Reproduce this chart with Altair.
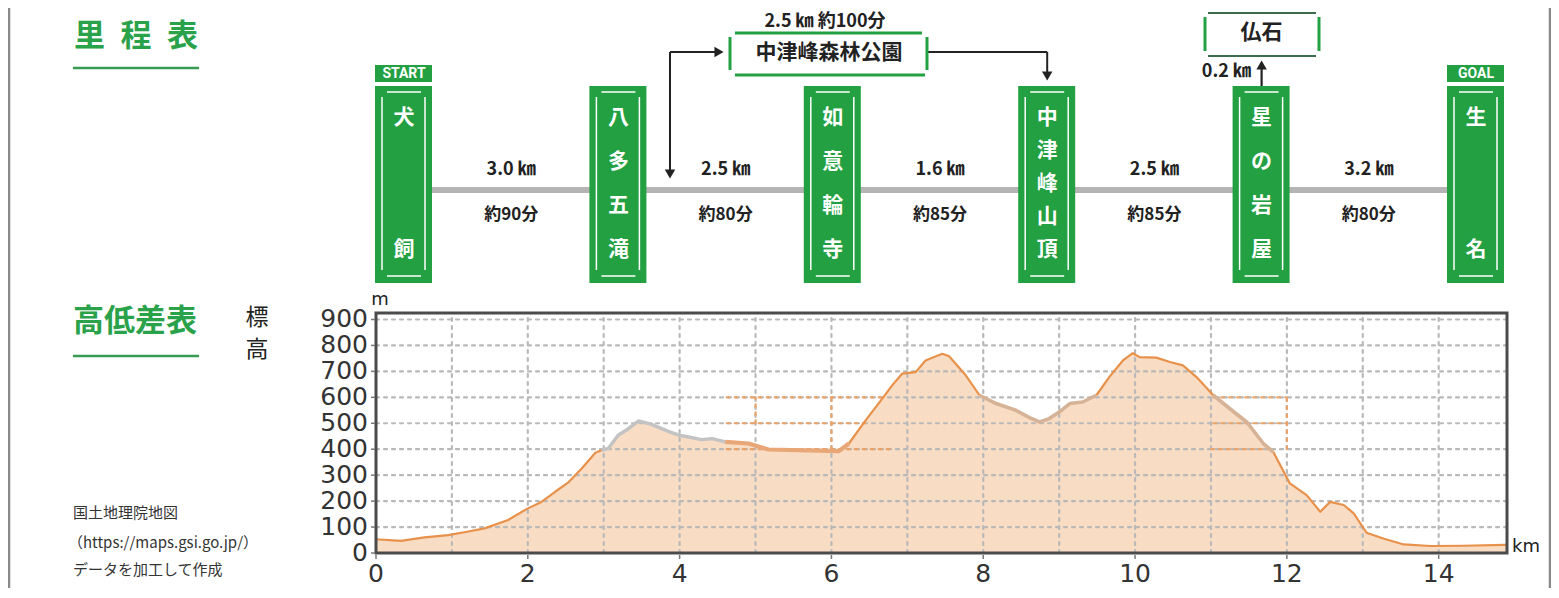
import altair as alt
import pandas as pd

# ---------------- data ----------------
stations = ["犬飼", "八多五滝", "如意輪寺", "中津峰山頂", "星の岩屋", "生名"]
station_tags = ["START", "", "", "", "", "GOAL"]
leg_dist = ["3.0 ㎞", "2.5 ㎞", "1.6 ㎞", "2.5 ㎞", "3.2 ㎞"]
leg_time = ["約90分", "約80分", "約85分", "約85分", "約80分"]
side_name = "中津峰森林公園"
side_info = "2.5 ㎞ 約100分"
spur_name = "仏石"
spur_info = "0.2 ㎞"

dist_km = [0.00, 0.33, 0.64, 0.95, 1.20, 1.43, 1.74, 2.00, 2.18, 2.36, 2.53, 2.71, 2.89, 2.97,
           3.06, 3.19, 3.33, 3.46, 3.63, 3.85, 3.99, 4.12, 4.29, 4.43, 4.60,
           4.91, 5.17, 6.10, 6.23, 6.45, 6.67, 6.80, 6.93, 7.11, 7.24, 7.46, 7.55, 7.77, 7.95,
           8.17, 8.43, 8.61, 8.74, 8.87, 9.00, 9.14, 9.31, 9.49, 9.66, 9.84, 9.97,
           10.06, 10.28, 10.46, 10.63, 10.81, 11.03, 11.25, 11.47, 11.69, 11.82,
           12.04, 12.26, 12.44, 12.57, 12.75, 12.88, 13.05, 13.27, 13.54, 13.89, 14.33, 14.86, 14.90]
elev_m = [53, 47, 60, 69, 82, 95, 127, 172, 197, 236, 271, 326, 386, 396,
          403, 454, 480, 509, 496, 469, 454, 447, 437, 441, 428,
          422, 399, 393, 422, 511, 595, 646, 691, 697, 742, 768, 758, 685, 608,
          576, 550, 522, 505, 518, 543, 576, 582, 608, 678, 742, 770,
          755, 753, 736, 723, 678, 608, 556, 505, 422, 390,
          268, 223, 159, 197, 185, 153, 78, 56, 33, 27, 28, 31, 31]

seg_breaks = [0.0, 2.97, 4.60, 6.23, 7.95, 9.49, 11.03, 11.82, 14.90]
seg_kinds = ["main", "gray", "road", "main", "tan", "main", "tan", "main"]

y_ticks = list(range(0, 1000, 100))
x_ticks = list(range(0, 15, 2))
x_grid = list(range(1, 15))
y_grid = list(range(100, 1000, 100))

# recoloured grid pieces seen on the map export
og_h_m = [600, 500, 400, 600, 500, 400]
og_h_from = [4.62, 4.62, 4.62, 11.03, 11.03, 11.0]
og_h_to = [6.70, 6.45, 6.80, 12.0, 12.0, 11.8]
og_v_km = [5, 6, 12]
og_v_from = [500, 400, 400]
og_v_to = [600, 600, 600]

# ---------------- style / layout ----------------
GREEN = "#22a042"
TGREEN = "#2aa24a"
DARK = "#222222"
JP = "Noto Sans CJK JP"
NUM = "DejaVu Sans"
W, H = 1131, 545
PX = 1 / 214.4                    # station-index units per pixel
IDX = alt.Scale(domain=[0, 5], range=[28, 1100])
KM = alt.Scale(domain=[0, 14.9], nice=False)
EL = alt.Scale(domain=[0, 925], range=[545, 305], nice=False)


def sx(f):
    return alt.X(f, type="quantitative", scale=IDX, axis=None)


def label(txt, x, y, size, color=DARK, weight="normal", align="center", font=JP):
    return alt.Chart(pd.DataFrame({"t": [txt]})).mark_text(
        font=font, fontSize=size, fontWeight=weight, color=color, align=align, baseline="middle"
    ).encode(text="t:N", x=alt.value(x), y=alt.value(y))


# ---------------- schematic (里程表) ----------------
st_df = pd.DataFrame({"idx": list(range(len(stations))), "name": stations, "tag": station_tags})
st = alt.Chart(st_df)

route = st.transform_aggregate(a="min(idx)", b="max(idx)").mark_rule(
    color="#b4b4b4", strokeWidth=6).encode(x=sx("a"), x2="b", y=alt.value(182))

boxes = st.transform_calculate(l=f"datum.idx-{29*PX}", r=f"datum.idx+{28*PX}").mark_rect(
    color=GREEN).encode(x=sx("l"), x2="r", y=alt.value(78), y2=alt.value(275))

inner = []
for off in (-22, 21):
    inner.append(st.transform_calculate(v=f"datum.idx+{off*PX}").mark_rule(
        color="white", strokeWidth=1.5).encode(x=sx("v"), y=alt.value(89), y2=alt.value(262)))
for yy in (84, 268):
    inner.append(st.transform_calculate(l=f"datum.idx-{17*PX}", r=f"datum.idx+{17*PX}").mark_rule(
        color="white", strokeWidth=1.5).encode(x=sx("l"), x2="r", y=alt.value(yy)))

tags = st.transform_filter("datum.tag != ''").transform_calculate(
    l=f"datum.idx-{29*PX}", r=f"datum.idx+{28*PX}")
tag_rect = tags.mark_rect(color=GREEN).encode(x=sx("l"), x2="r", y=alt.value(57), y2=alt.value(74))
tag_text = tags.mark_text(font="Roboto", fontWeight="bold", fontSize=14, color="white").encode(
    x=sx("idx"), y=alt.value(66), text="tag:N")

char_rows = [{"idx": i, "ch": c, "t": j / (len(n) - 1)}
             for i, n in enumerate(stations) for j, c in enumerate(n)]
chars = alt.Chart(pd.DataFrame(char_rows)).mark_text(
    font=JP, fontWeight="bold", fontSize=21, color="white").encode(
    x=sx("idx"), y=alt.Y("t:Q", scale=alt.Scale(domain=[0, 1], range=[110, 242]), axis=None),
    text="ch:N")

leg_df = pd.DataFrame({"mid": [i + 0.5 for i in range(len(leg_dist))], "d": leg_dist, "tm": leg_time})
leg_d = alt.Chart(leg_df).mark_text(font=JP, fontWeight="bold", fontSize=18, color=DARK).encode(
    x=sx("mid"), y=alt.value(162), text="d:N")
leg_t = alt.Chart(leg_df).mark_text(font=JP, fontWeight="bold", fontSize=17, color=DARK).encode(
    x=sx("mid"), y=alt.value(207), text="tm:N")

A = (670 - 404) * PX
HR = (719 - 404) * PX
BL, BR = (730 - 404) * PX, (927 - 404) * PX
FL, FR = (1205 - 404) * PX, (1319 - 404) * PX
rules_rows = [
    (A, A, 44, 162, DARK, 2), (A, HR, 44, 44, DARK, 2),
    (BR, 3.0, 44, 44, DARK, 2), (3.0, 3.0, 44, 64, DARK, 2),
    (4.0, 4.0, 58, 78, DARK, 2.2),
    (BL, BL, 29, 62, GREEN, 3), (BR, BR, 29, 62, GREEN, 3),
    (BL + 5 * PX, BR - 5 * PX, 25, 25, GREEN, 3), (BL + 5 * PX, BR - 2 * PX, 67, 67, GREEN, 3),
    (FL, FL, 9, 43, GREEN, 3), (FR, FR, 9, 43, GREEN, 3),
    (FL + 3 * PX, FR - 3 * PX, 5, 5, "#3d6b4e", 2), (FL + 3 * PX, FR - 3 * PX, 48, 48, "#3d6b4e", 2),
]
rules_df = pd.DataFrame(rules_rows, columns=["x0", "x1", "y0", "y1", "c", "w"])
deco_rules = alt.Chart(rules_df).mark_rule().encode(
    x=sx("x0"), x2="x1", y=alt.Y("y0:Q", scale=None, axis=None), y2="y1",
    color=alt.Color("c:N", scale=None), strokeWidth=alt.StrokeWidth("w:Q", scale=None))

heads_df = pd.DataFrame({"x": [A, HR, 3.0, 4.0], "y": [166, 44, 68, 57],
                         "s": ["triangle-down", "triangle-right", "triangle-down", "triangle-up"]})
heads = alt.Chart(heads_df).mark_point(filled=True, opacity=1, size=110, color=DARK).encode(
    x=sx("x"), y=alt.Y("y:Q", scale=None, axis=None), shape=alt.Shape("s:N", scale=None))

top_df = pd.DataFrame({
    "x": [(829 - 404) * PX, (825 - 404) * PX, 4.0],
    "y": [45, 14, 25],
    "t": [side_name, side_info, spur_name],
    "s": [21, 18, 21]})
top_texts = alt.Chart(top_df).mark_text(font=JP, fontWeight="bold", color=DARK).encode(
    x=sx("x"), y=alt.Y("y:Q", scale=None, axis=None), text="t:N",
    size=alt.Size("s:Q", scale=None))
spur_text = alt.Chart(pd.DataFrame({"x": [(1251 - 404) * PX], "t": [spur_info]})).mark_text(
    font=JP, fontWeight="bold", color=DARK, fontSize=18, align="right").encode(
    x=sx("x"), y=alt.value(64), text="t:N")

left = [
    label("里\u2002程\u2002表", -302, 29, 31, TGREEN, "bold", "left"),
    label("高低差表", -303, 314, 31, TGREEN, "bold", "left"),
    label("標", -119, 310, 23),
    label("高", -119, 342, 23),
    label("国土地理院地図", -303, 505, 15, "#333", align="left"),
    label("（https://maps.gsi.go.jp/）", -308, 535, 15, "#333", align="left"),
    label("データを加工して作成", -303, 562, 15, "#333", align="left"),
]
one = pd.DataFrame({"a": [0]})
underlines = [
    alt.Chart(one).mark_rule(color="#379a55", strokeWidth=2.5).encode(
        x=alt.value(-303), x2=alt.value(-177), y=alt.value(yy)) for yy in (60, 348)
]
borders = [
    alt.Chart(one).mark_rule(color="#8a8a8a", strokeWidth=2.5).encode(
        x=alt.value(xx), y=alt.value(0), y2=alt.value(580)) for xx in (-367, 1174)
]

schem = alt.layer(route, boxes, *inner, tag_rect, tag_text, chars, leg_d, leg_t,
                  deco_rules, heads, top_texts, spur_text, *left, *underlines, *borders)

# ---------------- elevation profile (高低差表) ----------------
prof = pd.DataFrame({"km": dist_km, "m": elev_m})


def ex(f):
    return alt.X(f, type="quantitative", scale=KM, axis=None)


def ey(f):
    return alt.Y(f, type="quantitative", scale=EL, axis=None)


area = alt.Chart(prof).mark_area(color="#f9dcc4", opacity=1).encode(x=ex("km"), y=ey("m"))

GRID = dict(strokeDash=[3, 5], strokeWidth=2.2, strokeCap="round")
hgrid = alt.Chart(pd.DataFrame({"m": y_grid, "a": 0.0, "b": 14.9})).mark_rule(
    color="#b9b9b9", **GRID).encode(x=ex("a"), x2="b", y=ey("m"))
vgrid = alt.Chart(pd.DataFrame({"km": x_grid, "a": 0, "b": 925})).mark_rule(
    color="#b9b9b9", **GRID).encode(x=ex("km"), y=ey("a"), y2="b")
og_h = alt.Chart(pd.DataFrame({"m": og_h_m, "a": og_h_from, "b": og_h_to})).mark_rule(
    color="#e9a46c", **GRID).encode(x=ex("a"), x2="b", y=ey("m"))
og_v = alt.Chart(pd.DataFrame({"km": og_v_km, "a": og_v_from, "b": og_v_to})).mark_rule(
    color="#e9a46c", **GRID).encode(x=ex("km"), y=ey("a"), y2="b")

rows = []
for s, (a, b, k) in enumerate(zip(seg_breaks[:-1], seg_breaks[1:], seg_kinds)):
    for d, e in zip(dist_km, elev_m):
        if a - 1e-9 <= d <= b + 1e-9:
            rows.append({"km": d, "m": e, "seg": s, "kind": k})
lines_df = pd.DataFrame(rows)
styles = {"main": ("#e8914a", 2.2), "gray": ("#c3c3c3", 3.4),
          "road": ("#e9a676", 4.2), "tan": ("#d6b296", 3.6)}
lines = [
    alt.Chart(lines_df).transform_filter(f"datum.kind == '{k}'").mark_line(
        color=c, strokeWidth=w, strokeJoin="round").encode(x=ex("km"), y=ey("m"), detail="seg:N")
    for k, (c, w) in styles.items()
]

frame = alt.Chart(pd.DataFrame({"a": [0.0], "b": [14.9], "c": [0], "d": [925]})).mark_rect(
    fillOpacity=0, stroke="#4b4b4b", strokeWidth=3).encode(x=ex("a"), x2="b", y=ey("c"), y2="d")

# axis ticks and labels, placed through the km / m scales
ytk = pd.DataFrame({"m": y_ticks})
xtk = pd.DataFrame({"km": x_ticks})
y_tick_marks = alt.Chart(ytk).mark_rule(color="#777", strokeWidth=1.5).encode(
    x=alt.value(-5), x2=alt.value(-1), y=ey("m"))
x_tick_marks = alt.Chart(xtk).mark_rule(color="#777", strokeWidth=1.5).encode(
    x=ex("km"), y=alt.value(547), y2=alt.value(551))
y_labels = alt.Chart(ytk).mark_text(font=NUM, fontSize=25, color="#333", align="right",
                                    baseline="middle").encode(
    x=alt.value(-8), y=ey("m"), text=alt.Text("m:Q", format="d"))
x_labels = alt.Chart(xtk).mark_text(font=NUM, fontSize=25, color="#333", align="center",
                                    baseline="middle").encode(
    x=ex("km"), y=alt.value(566), text=alt.Text("km:Q", format="d"))

units = [label("m", 4, 292, 18, "#222", font=NUM),
         label("km", 1136, 539, 18, "#222", align="left", font=NUM)]

elev = alt.layer(area, hgrid, vgrid, og_h, og_v, *lines, frame,
                 y_tick_marks, x_tick_marks, y_labels, x_labels, *units)

chart = alt.layer(schem, elev).resolve_scale(x="independent", y="independent").properties(
    width=W, height=H,
    padding={"left": 368, "top": 0, "right": 44, "bottom": 35},
    autosize=alt.AutoSizeParams(type="none"),
).configure_view(strokeWidth=0)

chart.save("out.html", embed_options={"renderer": "svg", "actions": False})
